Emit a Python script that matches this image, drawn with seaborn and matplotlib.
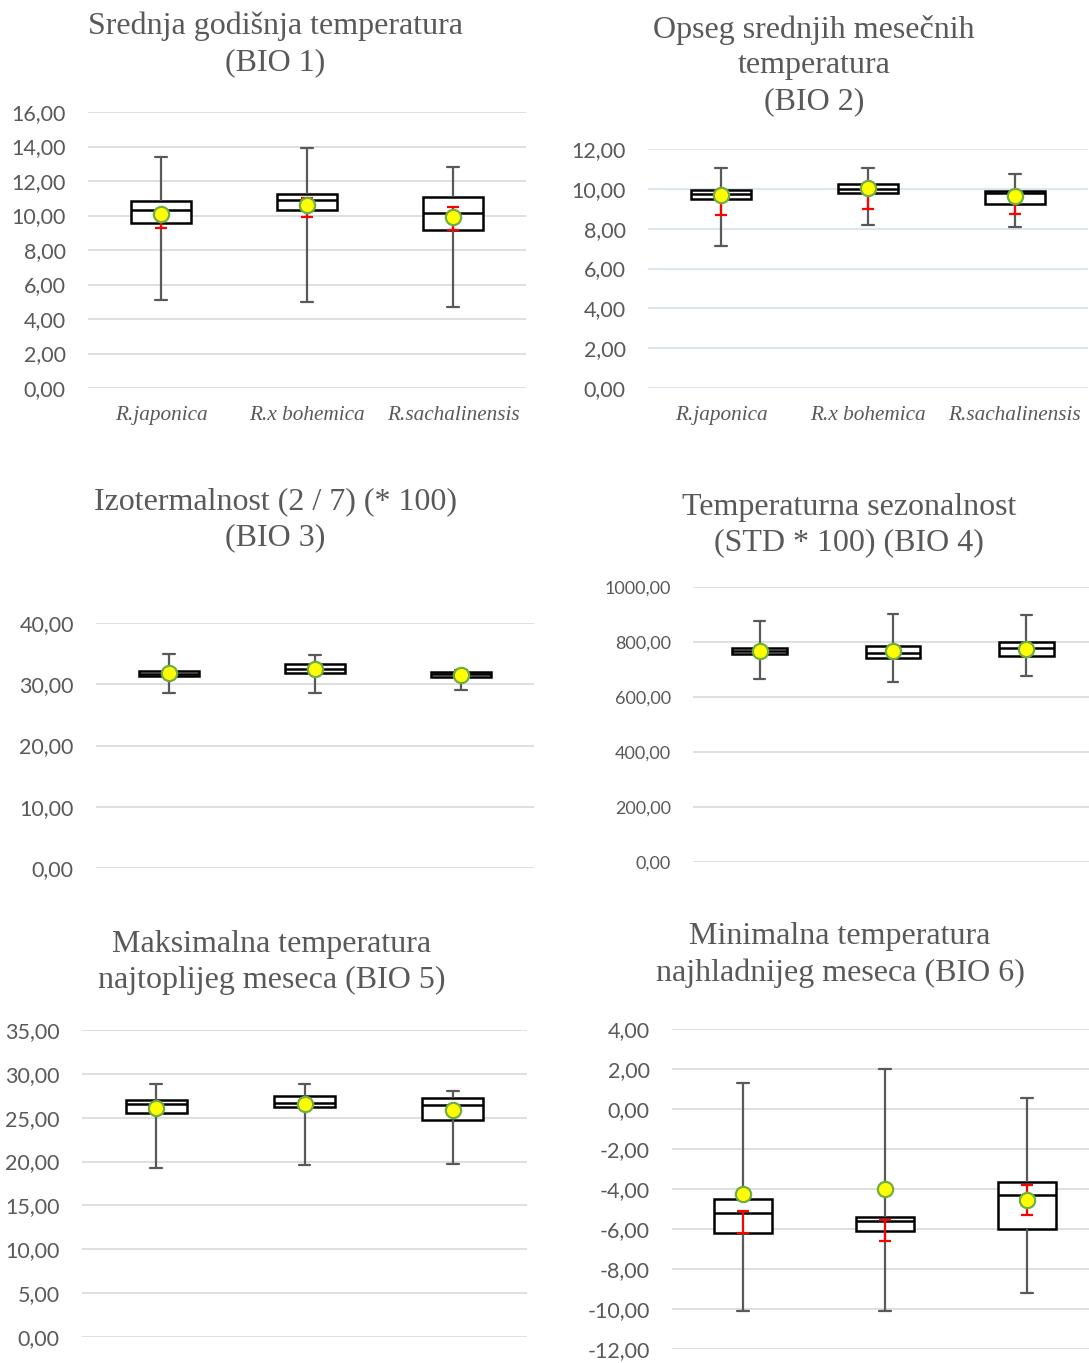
import numpy as np
import pandas as pd
import matplotlib
matplotlib.use('Agg')
import matplotlib.pyplot as plt
import seaborn as sb
from matplotlib.ticker import FuncFormatter, MultipleLocator

species = ['R.japonica', 'R.x bohemica', 'R.sachalinensis']

# five number summary per species: whisker min, q1, median, q3, whisker max
bio1_box = [[5.10, 9.55, 10.31, 10.83, 13.39],
            [4.98, 10.33, 10.91, 11.24, 13.91],
            [4.71, 9.17, 10.14, 11.10, 12.83]]
bio1_mean = [10.06, 10.62, 9.94]
bio1_err_lo = [9.30, 9.92, 9.17]
bio1_err_hi = [10.06, 11.00, 10.47]

bio2_box = [[7.12, 9.48, 9.73, 9.95, 11.05],
            [8.19, 9.77, 10.00, 10.22, 11.05],
            [8.09, 9.24, 9.80, 9.88, 10.75]]
bio2_mean = [9.70, 10.02, 9.63]
bio2_err_lo = [8.68, 9.00, 8.76]
bio2_err_hi = [9.70, 10.02, 9.86]

bio3_box = [[28.5, 31.3, 31.75, 32.1, 35.0],
            [28.64, 31.85, 32.56, 33.27, 34.7],
            [29.08, 31.2, 31.6, 32.0, 32.4]]
bio3_mean = [31.85, 32.56, 31.58]
bio3_err_lo = [31.6, 32.3, 31.35]
bio3_err_hi = [32.1, 32.8, 31.8]

bio4_box = [[666, 755, 766, 777, 877],
            [655, 742, 760, 785, 902],
            [678, 748, 778, 800, 899]]
bio4_mean = [766, 766, 776]
bio4_err_lo = [756, 756, 766]
bio4_err_hi = [776, 776, 786]

bio5_box = [[19.25, 25.57, 26.57, 26.99, 28.9],
            [19.63, 26.22, 26.72, 27.53, 28.9],
            [19.78, 24.72, 26.45, 27.30, 28.02]]
bio5_mean = [26.10, 26.53, 25.88]
bio5_err_lo = [25.8, 26.25, 25.6]
bio5_err_hi = [26.4, 26.8, 26.15]

bio6_box = [[-10.08, -6.20, -5.20, -4.50, 1.28],
            [-10.08, -6.12, -5.60, -5.40, 2.00],
            [-9.22, -6.02, -4.30, -3.65, 0.57]]
bio6_mean = [-4.23, -4.02, -4.57]
bio6_err_lo = [-6.20, -6.60, -5.28]
bio6_err_hi = [-5.12, -5.53, -3.78]

titles = ['Srednja godišnja temperatura\n(BIO 1)',
          'Opseg srednjih mesečnih\ntemperatura\n(BIO 2)',
          'Izotermalnost (2 / 7) (* 100)\n(BIO 3)',
          'Temperaturna sezonalnost\n(STD * 100) (BIO 4)',
          'Maksimalna temperatura\nnajtoplijeg meseca (BIO 5)',
          'Minimalna temperatura\nnajhladnijeg meseca (BIO 6)']

sb.set_theme(style='white')
plt.rcParams['font.family'] = ['Lato', 'DejaVu Sans']

W, H = 1089, 1363
fig = plt.figure(figsize=(W / 100, H / 100), dpi=100)

gray = '#595959'
comma = FuncFormatter(lambda v, p: f'{v:.2f}'.replace('.', ','))

# panel: data, axes box in pixels (x0, x1, ytop, ybottom), ylim, step, tick size, title pos, grid color, labels
panels = [
    (bio1_box, bio1_mean, bio1_err_lo, bio1_err_hi, (88, 526, 112, 388), (0, 16), 2, 15.5, (275, 44.5), '#d9d9d9', True),
    (bio2_box, bio2_mean, bio2_err_lo, bio2_err_hi, (648, 1088, 149, 388), (0, 12), 2, 15.5, (814, 65.5), '#d5e2f0', True),
    (bio3_box, bio3_mean, bio3_err_lo, bio3_err_hi, (96, 534, 623, 868), (0, 40), 10, 15.5, (275, 519.5), '#d9d9d9', False),
    (bio4_box, bio4_mean, bio4_err_lo, bio4_err_hi, (693, 1093, 587, 862), (0, 1000), 200, 13, (849, 525), '#d9d9d9', False),
    (bio5_box, bio5_mean, bio5_err_lo, bio5_err_hi, (82, 527, 1030, 1337), (0, 35), 5, 15.5, (272, 962.5), '#d9d9d9', False),
    (bio6_box, bio6_mean, bio6_err_lo, bio6_err_hi, (672, 1098, 1029, 1349), (-12, 4), 2, 15.5, (840, 955), '#d9d9d9', False),
]

for i, (box, mean, lo, hi, rect, ylim, step, tsize, tpos, gcol, xlab) in enumerate(panels):
    x0, x1, yt, yb = rect
    ax = fig.add_axes([x0 / W, 1 - yb / H, (x1 - x0) / W, (yb - yt) / H])

    df = pd.DataFrame({'species': np.repeat(species, 5), 'value': np.ravel(box)})
    sb.boxplot(data=df, x='species', y='value', order=species, whis=(0, 100), width=0.41,
               color='white', linecolor='black', linewidth=1.8, showfliers=False,
               whiskerprops=dict(color=gray, linewidth=1.6),
               capprops=dict(color=gray, linewidth=1.6),
               medianprops=dict(color='black', linewidth=1.8),
               capwidths=0.08, ax=ax)

    # red error bars (lo..hi, not always around the mean)
    lo_arr, hi_arr = np.array(lo), np.array(hi)
    mid = (lo_arr + hi_arr) / 2
    ax.errorbar([0, 1, 2], mid, yerr=(hi_arr - lo_arr) / 2, fmt='none', ecolor='red',
                elinewidth=1.6, capsize=4.5, capthick=1.6, zorder=4)

    # means
    sb.stripplot(x=species, y=mean, order=species, jitter=False, size=11,
                 color='#FFFF00', edgecolor='#70AD47', linewidth=1.6, zorder=5, ax=ax)

    ax.set_xlim(-0.5, 2.5)
    ax.set_ylim(*ylim)
    ax.yaxis.set_major_locator(MultipleLocator(step))
    ax.yaxis.set_major_formatter(comma)
    ax.yaxis.grid(True, color=gcol, linewidth=1.2)
    ax.set_axisbelow(True)
    sb.despine(ax=ax, left=True, bottom=True)
    ax.set_xlabel('')
    ax.set_ylabel('')
    ax.tick_params(axis='y', length=0, pad=16, labelsize=tsize, labelcolor=gray)
    if xlab:
        ax.tick_params(axis='x', length=0, pad=13)
        for t in ax.get_xticklabels():
            t.set_family('Liberation Serif')
            t.set_style('italic')
            t.set_fontsize(15.3)
            t.set_color(gray)
    else:
        ax.set_xticklabels([])
        ax.tick_params(axis='x', length=0)

    fig.text(tpos[0] / W, 1 - tpos[1] / H, titles[i], ha='center', va='center',
             fontsize=23, family='Liberation Serif', color=gray, linespacing=1.3)

fig.savefig('out.png', dpi=100)
